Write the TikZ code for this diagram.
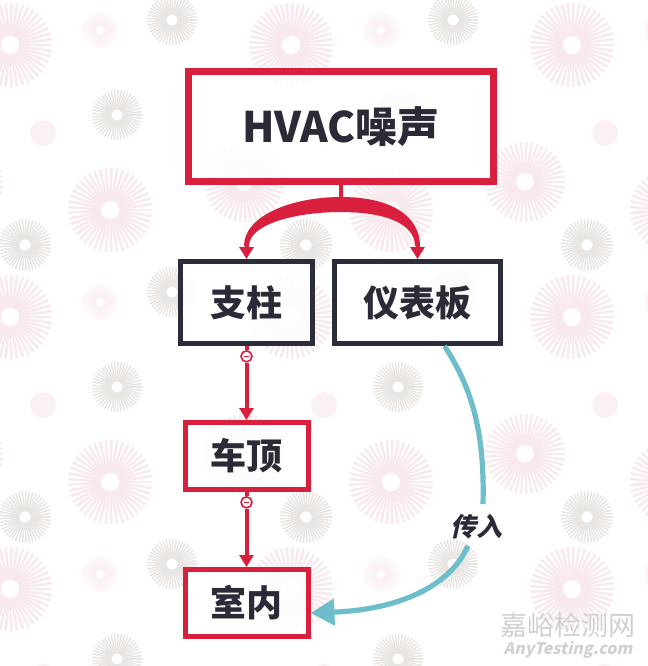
\documentclass[tikz,border=0pt]{standalone}
\usepackage{fontspec}
\newfontfamily\cjk{Noto Sans CJK SC}
\newfontfamily\cjkslant{Noto Sans CJK SC}[FakeSlant=0.22]
\usepackage{tikz}
\usetikzlibrary{arrows.meta, positioning, calc}

\definecolor{hvacred}{HTML}{D8203E}
\definecolor{boxdark}{HTML}{2C2D3A}
\definecolor{textdark}{HTML}{2A2B36}
\definecolor{flowteal}{HTML}{6DBDCA}
\definecolor{burstgray}{HTML}{E8E5E2}
\definecolor{burstpink}{HTML}{F8E9EC}
\definecolor{burstpale}{HTML}{FBF0F2}
\definecolor{markgray}{HTML}{D0D0D0}

\begin{document}
\begin{tikzpicture}[
    x=0.5pt, y=-0.5pt,
    node distance=37pt and 8.5pt,
    topbox/.style={
        rectangle,
        draw=hvacred,
        line width=3.5pt,
        fill=white,
        fill opacity=0.85,
        text opacity=1,
        minimum width=152.5pt,
        minimum height=55pt,
        text=textdark,
        font=\cjk\bfseries\fontsize{21pt}{24pt}\selectfont
    },
    partbox/.style={
        rectangle,
        draw=boxdark,
        line width=2.5pt,
        fill=white,
        fill opacity=0.85,
        text opacity=1,
        minimum height=41pt,
        text=textdark,
        font=\cjk\bfseries\fontsize{18pt}{20pt}\selectfont
    },
    pathbox/.style={
        rectangle,
        draw=hvacred,
        line width=2.5pt,
        fill=white,
        fill opacity=0.85,
        text opacity=1,
        minimum width=61.5pt,
        minimum height=33.5pt,
        text=textdark,
        font=\cjk\bfseries\fontsize{18pt}{20pt}\selectfont
    },
    minusdot/.style={
        circle,
        draw=hvacred,
        line width=0.8pt,
        fill=white,
        minimum size=5.5pt,
        inner sep=0pt,
        path picture={\draw[hvacred, line width=0.5pt]
            ([xshift=-1.3pt]path picture bounding box.center) --
            ([xshift=1.3pt]path picture bounding box.center);}
    },
    redline/.style={
        hvacred,
        line width=2pt
    },
    redarrow/.style={
        hvacred,
        line width=2pt,
        -{Triangle[length=6pt, width=7pt]}
    },
    tealarrow/.style={
        flowteal,
        line width=2.6pt,
        -{Triangle[length=12pt, width=13pt]}
    }
]
\useasboundingbox (0,0) rectangle (648,666);

% === Background bursts ===
\begin{scope}
\clip (0,0) rectangle (648,666);
\foreach \i in {-1,0,1,2} {
    \foreach \j in {0,1,2} {
        \fill[burstpale] (43+281*\i,133+272*\j) circle (13);
        \foreach \bx/\by/\br/\bc in {172/20/25/burstgray, 10/45/42/burstpink,
                100/30/18/burstpale, 117/115/25/burstgray, 110/210/42/burstpink,
                25/245/26/burstgray, 244/182/40/burstpink} {
            \begin{scope}[shift={(\bx+281*\i,\by+272*\j)}]
                \foreach \a in {0,8,...,352}
                    \draw[\bc, line width=\br*0.03pt] (\a:\br*0.22) -- (\a:\br);
            \end{scope}
        }
    }
}
\end{scope}

% === Boxes ===
\node[topbox] (hvac) at (341,126.5) {HVAC噪声};
\node[partbox, minimum width=66pt] (zhizhu) at (246.5,302.5) {支柱};
\node[partbox, minimum width=83pt, right=of zhizhu] (yibiao) {仪表板};
\node[pathbox, below=of zhizhu] (cheding) {车顶};
\node[pathbox, below=37.5pt of cheding] (shinei) {室内};

% === Fork: HVAC -> parts ===
\coordinate (fork) at ($(hvac.south)+(0,13)$);
\coordinate (lend) at ($(zhizhu.north)+(0,-13)$);
\coordinate (rend) at ($(yibiao.north)+(0,-13)$);
\draw[redline] (hvac.south) -- (fork);
\fill[hvacred] ($(fork)+(0,-1)$) .. controls +(-50,0) and +(0,-30) .. ($(lend)+(-2.5,0)$)
    -- ($(lend)+(2.5,0)$) .. controls +(0,-22) and +(-45,0) .. ($(fork)+(0,14)$)
    .. controls +(45,0) and +(0,-22) .. ($(rend)+(-2.5,0)$)
    -- ($(rend)+(2.5,0)$) .. controls +(0,-30) and +(50,0) .. cycle;
\draw[redarrow] (lend) -- (zhizhu.north);
\draw[redarrow] (rend) -- (yibiao.north);

% === Red chain ===
\node[minusdot, below=2pt of zhizhu] (dot1) {};
\node[minusdot, below=2pt of cheding] (dot2) {};
\draw[redline] (zhizhu.south) -- (dot1);
\draw[redarrow] (dot1) -- (cheding.north);
\draw[redline] (cheding.south) -- (dot2);
\draw[redarrow] (dot2) -- (shinei.north);

% === Teal path ===
\node[text=textdark, inner sep=1pt, font=\cjkslant\bfseries\fontsize{13pt}{14pt}\selectfont] (chuanru) at (477,527) {传入};
\draw[flowteal, line width=2.6pt] ([xshift=13.5pt]yibiao.south) .. controls +(26,40) and +(2,-75) .. ($(chuanru.north)+(6,-8)$);
\draw[tealarrow] ($(chuanru.south)+(-9,4)$) .. controls +(-20,45) and +(80,-3) .. ([yshift=-5pt]shinei.east);

% === Watermark ===
\node[markgray, font=\cjk\fontsize{13.5pt}{14pt}\selectfont] (markcn) at (568,625) {嘉峪检测网};
\node[markgray, font=\cjkslant\bfseries\fontsize{8pt}{9pt}\selectfont] (marken) at (568,650) {AnyTesting.com};

\end{tikzpicture}
\end{document}
